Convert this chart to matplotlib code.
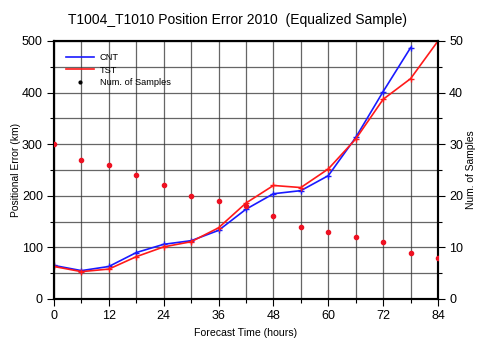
import matplotlib
matplotlib.use("Agg")
import matplotlib.pyplot as plt
from matplotlib.lines import Line2D
from matplotlib.ticker import MultipleLocator

plt.rcParams['font.family'] = ['Liberation Sans', 'DejaVu Sans']

hours_cnt = [0, 6, 12, 18, 24, 30, 36, 42, 48, 54, 60, 66, 72, 78]
cnt = [65, 55, 63, 90, 106, 113, 133, 174, 204, 210, 239, 313, 402, 487]
hours_tst = [0, 6, 12, 18, 24, 30, 36, 42, 48, 54, 60, 66, 72, 78, 84]
tst = [63, 53, 58, 82, 101, 111, 138, 186, 220, 216, 252, 310, 387, 427, 500]
hours_n = [0, 6, 12, 18, 24, 30, 36, 42, 48, 54, 60, 66, 72, 78, 84]
samples = [30, 27, 26, 24, 22, 20, 19, 18, 16, 14, 13, 12, 11, 9, 8]

fig = plt.figure(figsize=(4.8, 3.38), dpi=100)
ax = fig.add_axes([0.1125, 0.1154, 0.8, 0.7633])
ax2 = ax.twinx()

ax.set_xlim(0, 84)
ax.set_ylim(0, 500)
ax2.set_ylim(0, 50)

ax.xaxis.set_major_locator(MultipleLocator(12))
ax.xaxis.set_minor_locator(MultipleLocator(6))
ax.yaxis.set_major_locator(MultipleLocator(100))
ax.yaxis.set_minor_locator(MultipleLocator(50))
ax2.yaxis.set_major_locator(MultipleLocator(10))
ax2.yaxis.set_minor_locator(MultipleLocator(5))

ax.grid(True, which='both', color='#333333', linewidth=0.9, alpha=0.75)
ax.set_axisbelow(True)

ax.plot(hours_cnt, cnt, color='#1a1aff', lw=1.2, marker='+', ms=4, mew=1, zorder=3)
ax.plot(hours_tst, tst, color='#ff1a1a', lw=1.2, marker='+', ms=4, mew=1, zorder=4)
ax2.plot(hours_n, samples, linestyle='none', marker='o', ms=3, color='#ee1122', zorder=5)

for a in (ax, ax2):
    a.tick_params(which='major', direction='out', length=5, width=0.8, labelsize=9, pad=3)
    a.tick_params(which='minor', direction='out', length=3, width=0.8)
    for s in a.spines.values():
        s.set_linewidth(1.5)
        s.set_color('black')

ax.set_xlabel('Forecast Time (hours)', fontsize=7.6, labelpad=4)
ax.set_ylabel('Positional Error (km)', fontsize=7.4)
ax.yaxis.set_label_coords(-0.085, 0.5)
ax2.set_ylabel('Num. of Samples', fontsize=7.4, rotation=90, va='center')
ax2.yaxis.set_label_coords(1.085, 0.5)

fig.text(0.495, 0.942, 'T1004_T1010 Position Error 2010  (Equalized Sample)',
         ha='center', va='center', fontsize=10)

handles = [Line2D([], [], color='#1a1aff', lw=1.2),
           Line2D([], [], color='#ff1a1a', lw=1.2),
           Line2D([], [], color='black', linestyle='none', marker='o', ms=2)]
leg = ax.legend(handles, ['CNT', 'TST', 'Num. of Samples'], loc='upper left',
                frameon=False, fontsize=6.7, handlelength=3.0, handletextpad=0.6,
                labelspacing=0.35, bbox_to_anchor=(0.01, 0.985))
leg.set_zorder(10)

fig.savefig('out.png', dpi=100)
